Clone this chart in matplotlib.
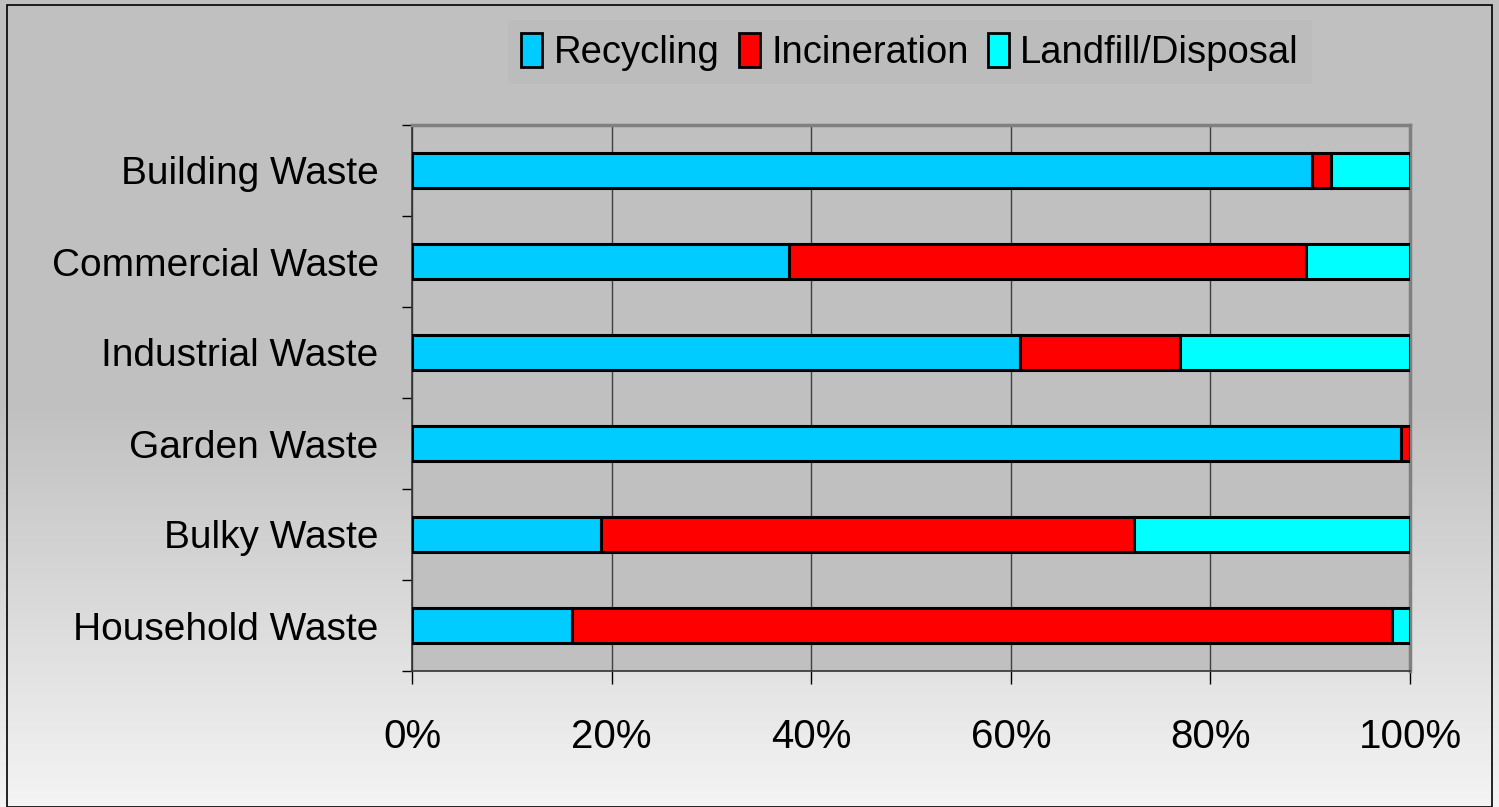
import numpy as np
import matplotlib
matplotlib.use("Agg")
import matplotlib.pyplot as plt
from matplotlib.ticker import PercentFormatter, FixedLocator

plt.rcParams['font.family'] = ['Liberation Sans', 'DejaVu Sans']

# Anteil je Abfallart in %
categories = ["Household Waste", "Bulky Waste", "Garden Waste",
              "Industrial Waste", "Commercial Waste", "Building Waste"]
recycling = [16.0, 18.9, 99.1, 60.9, 37.8, 90.2]
incineration = [82.2, 53.4, 0.9, 16.1, 51.8, 1.9]
landfill = [1.8, 27.7, 0.0, 23.0, 10.4, 7.9]
series_names = ["Recycling", "Incineration", "Landfill/Disposal"]
colors = ["#00ccff", "#ff0000", "#00ffff"]

fig = plt.figure(figsize=(14.99, 8.07), dpi=100)

# Hintergrund mit Verlauf
bg = fig.add_axes([0, 0, 1, 1], zorder=-10)
grad = np.linspace(0, 1, 256).reshape(-1, 1)
bg.imshow(grad, aspect='auto', cmap=matplotlib.colors.LinearSegmentedColormap.from_list(
    'g', ['#c0c0c0', '#c0c0c0', '#f4f4f4']), extent=[0, 1, 0, 1])
bg.add_patch(plt.Rectangle((7 / 1499, 0), 1485 / 1499, 1 - 5 / 807, fill=False,
                           edgecolor='black', lw=1.2, transform=bg.transAxes))
bg.set_xlim(0, 1)
bg.set_ylim(0, 1)
bg.axis('off')

ax = fig.add_axes([412 / 1499, 1 - 671 / 807, 998 / 1499, 546 / 807])
ax.set_facecolor('#c0c0c0')

y = np.arange(len(categories))
left = np.zeros(len(categories))
for vals, name, col in zip([recycling, incineration, landfill], series_names, colors):
    ax.barh(y, vals, left=left, height=0.38, color=col, edgecolor='black',
            linewidth=2.2, label=name, zorder=3)
    left += np.array(vals)

ax.set_xlim(0, 100)
ax.set_ylim(-0.5, len(categories) - 0.5)
ax.xaxis.set_major_formatter(PercentFormatter(decimals=0))
ax.set_xticks([0, 20, 40, 60, 80, 100])
ax.grid(axis='x', color='#404040', linewidth=1, zorder=0)

ax.set_yticks(y)
ax.set_yticklabels(categories)
ax.yaxis.set_minor_locator(FixedLocator(np.arange(-0.5, len(categories), 1)))
ax.tick_params(axis='y', which='major', length=0, pad=24, labelsize=28)
ax.tick_params(axis='y', which='minor', length=7, width=1, direction='out')
ax.tick_params(axis='x', length=9, width=1, direction='out', pad=25, labelsize=29)

for s in ['top', 'right']:
    ax.spines[s].set_color('#808080')
    ax.spines[s].set_linewidth(2.5)
for s in ['left', 'bottom']:
    ax.spines[s].set_color('#333333')
    ax.spines[s].set_linewidth(1.2)

leg = fig.legend(loc='center', bbox_to_anchor=(910 / 1499, 1 - 52 / 807), ncol=3,
                 fontsize=27.5, frameon=True, fancybox=False, handlelength=0.55,
                 handleheight=1.0, handletextpad=0.3, columnspacing=0.5,
                 borderpad=0.35)
leg.get_frame().set_facecolor('#bcbcbc')
leg.get_frame().set_edgecolor('none')
for h in leg.legend_handles:
    h.set_linewidth(2.0)

fig.savefig('out.png', dpi=100)
